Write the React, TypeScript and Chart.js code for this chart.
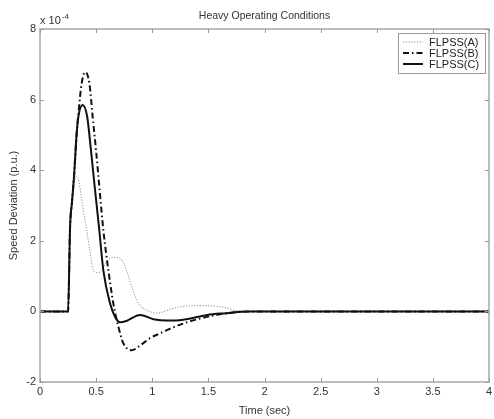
import React, { useEffect, useRef } from "react";
import { Chart, registerables } from "chart.js";

Chart.register(...registerables);

// ---- data (speed deviation in units of 1e-4 p.u.) ----
const xTicks = [0, 0.5, 1, 1.5, 2, 2.5, 3, 3.5, 4];
const yTicks = [-2, 0, 2, 4, 6, 8];
const seriesNames = ["FLPSS(A)", "FLPSS(B)", "FLPSS(C)"];

const tA = [0, 0.25, 0.268, 0.285, 0.303, 0.325, 0.345, 0.37, 0.4, 0.416, 0.44, 0.475, 0.505, 0.55, 0.594, 0.653, 0.727, 0.77, 0.817, 0.876, 0.95, 1.04, 1.19, 1.34, 1.49, 1.63, 1.75, 1.85, 4];
const vA = [0, 0, 2.4, 3.1, 3.6, 3.82, 3.7, 3.2, 2.59, 2.31, 1.8, 1.17, 1.1, 1.15, 1.41, 1.53, 1.46, 1.17, 0.7, 0.23, 0.04, -0.05, 0.09, 0.16, 0.16, 0.12, 0.02, 0, 0];

const tB = [0, 0.25, 0.268, 0.285, 0.303, 0.327, 0.342, 0.371, 0.403, 0.44, 0.469, 0.499, 0.526, 0.564, 0.609, 0.653, 0.698, 0.742, 0.817, 0.89, 0.98, 1.07, 1.13, 1.28, 1.43, 1.57, 1.72, 1.9, 4];
const vB = [0, 0, 2.4, 3.1, 3.82, 5.05, 5.6, 6.46, 6.78, 6.46, 5.52, 4.57, 3.63, 2.31, 1.17, 0.23, -0.43, -0.9, -1.1, -0.97, -0.76, -0.62, -0.53, -0.34, -0.2, -0.1, -0.03, 0, 0];

const tC = [0, 0.25, 0.268, 0.285, 0.303, 0.327, 0.342, 0.38, 0.42, 0.454, 0.484, 0.528, 0.564, 0.624, 0.668, 0.715, 0.77, 0.89, 1.01, 1.13, 1.19, 1.34, 1.49, 1.66, 1.85, 4];
const vC = [0, 0, 2.4, 3.1, 3.82, 5.05, 5.52, 5.85, 5.52, 4.57, 3.63, 2.31, 1.17, 0.23, -0.15, -0.31, -0.27, -0.1, -0.22, -0.26, -0.26, -0.2, -0.1, -0.05, 0, 0];

const FONT = "'Liberation Sans', Arial, Helvetica, sans-serif";
const TEXT = "#333";

const styles = [
  { color: "#8a8a8a", width: 1, dash: [1.2, 1.6] },
  { color: "#111", width: 2, dash: [6, 3, 1.5, 3] },
  { color: "#111", width: 2, dash: [] as number[] },
];

const toPts = (t: number[], v: number[]) => t.map((x, i) => ({ x, y: v[i] }));

export default function App() {
  const ref = useRef<HTMLCanvasElement>(null);

  useEffect(() => {
    const canvas = ref.current;
    if (!canvas) return;
    Chart.defaults.font.family = FONT;

    const decor = {
      id: "decor",
      afterDraw(chart: any) {
        const { ctx, chartArea: a, scales } = chart;
        ctx.save();
        // frame
        ctx.strokeStyle = "#a8a8a8";
        ctx.lineWidth = 1.5;
        ctx.strokeRect(a.left, a.top, a.right - a.left, a.bottom - a.top);
        // inward tick marks on all sides
        ctx.lineWidth = 1;
        ctx.strokeStyle = "#999";
        ctx.beginPath();
        for (const v of xTicks) {
          const x = Math.round(scales.x.getPixelForValue(v)) + 0.5;
          ctx.moveTo(x, a.bottom); ctx.lineTo(x, a.bottom - 4);
          ctx.moveTo(x, a.top); ctx.lineTo(x, a.top + 4);
        }
        for (const v of yTicks) {
          const y = Math.round(scales.y.getPixelForValue(v)) + 0.5;
          ctx.moveTo(a.left, y); ctx.lineTo(a.left + 4, y);
          ctx.moveTo(a.right, y); ctx.lineTo(a.right - 4, y);
        }
        ctx.stroke();
        // exponent label
        ctx.fillStyle = TEXT;
        ctx.textAlign = "left";
        ctx.textBaseline = "middle";
        ctx.font = `11px ${FONT}`;
        const base = "x 10";
        ctx.fillText(base, a.left, a.top - 8);
        const w = ctx.measureText(base).width;
        ctx.font = `8px ${FONT}`;
        ctx.fillText("-4", a.left + w + 1, a.top - 12);
        // legend
        const bx = a.right - 91, by = a.top + 4, bw = 87, bh = 40;
        ctx.fillStyle = "#fff";
        ctx.fillRect(bx, by, bw, bh);
        ctx.strokeStyle = "#999";
        ctx.lineWidth = 1;
        ctx.strokeRect(bx + 0.5, by + 0.5, bw, bh);
        ctx.font = `11px ${FONT}`;
        seriesNames.forEach((name, i) => {
          const y = by + 9 + i * 11;
          const s = styles[i];
          ctx.strokeStyle = s.color;
          ctx.lineWidth = s.width;
          ctx.setLineDash(s.dash);
          ctx.beginPath();
          ctx.moveTo(bx + 5, y);
          ctx.lineTo(bx + 25, y);
          ctx.stroke();
          ctx.setLineDash([]);
          ctx.fillStyle = "#222";
          ctx.fillText(name, bx + 31, y + 0.5);
        });
        ctx.restore();
      },
    };

    const data = [toPts(tA, vA), toPts(tB, vB), toPts(tC, vC)];

    const chart = new Chart(canvas, {
      type: "line",
      data: {
        datasets: data.map((d, i) => ({
          label: seriesNames[i],
          data: d,
          borderColor: styles[i].color,
          borderWidth: styles[i].width,
          borderDash: styles[i].dash,
          pointRadius: 0,
          fill: false,
          cubicInterpolationMode: "monotone" as const,
          order: 2 - i,
        })),
      },
      options: {
        responsive: false,
        animation: false,
        layout: { padding: { left: 0, right: 5, top: 0, bottom: 0 } },
        plugins: {
          legend: { display: false },
          tooltip: { enabled: false },
          title: {
            display: true,
            text: "Heavy Operating Conditions",
            color: TEXT,
            fullSize: false,
            font: { size: 10.5, weight: "normal", family: FONT },
            padding: { top: 9.4, bottom: 7 },
          },
        },
        scales: {
          x: {
            type: "linear",
            min: 0,
            max: 4,
            afterFit: (s: any) => { s.height = 37; s.paddingLeft = 0; s.paddingRight = 0; },
            afterBuildTicks: (s: any) => { s.ticks = xTicks.map((v) => ({ value: v })); },
            grid: { display: false, drawTicks: false },
            border: { display: false },
            ticks: {
              color: TEXT,
              font: { size: 11 },
              padding: 3,
              maxRotation: 0,
              autoSkip: false,
              callback: (v: any) => String(Number(v)),
            },
            title: { display: true, text: "Time (sec)", color: TEXT, font: { size: 11 }, padding: { top: 0, bottom: 1.4 } },
          },
          y: {
            type: "linear",
            min: -2,
            max: 8,
            afterFit: (s: any) => { s.width = 40; s.paddingTop = 0; s.paddingBottom = 0; },
            afterBuildTicks: (s: any) => { s.ticks = yTicks.map((v) => ({ value: v })); },
            grid: { display: false, drawTicks: false },
            border: { display: false },
            ticks: { color: TEXT, font: { size: 11 }, padding: 4, callback: (v: any) => String(Number(v)) },
            title: { display: true, text: "Speed Deviation (p.u.)", color: TEXT, font: { size: 11 }, padding: { top: 7.4, bottom: 0 } },
          },
        },
      },
      plugins: [decor],
    });

    return () => chart.destroy();
  }, []);

  return (
    <div style={{ position: "absolute", left: 0, top: 0, width: 494, height: 419, background: "#fff" }}>
      <canvas ref={ref} width={494} height={419} style={{ display: "block" }} />
    </div>
  );
}
